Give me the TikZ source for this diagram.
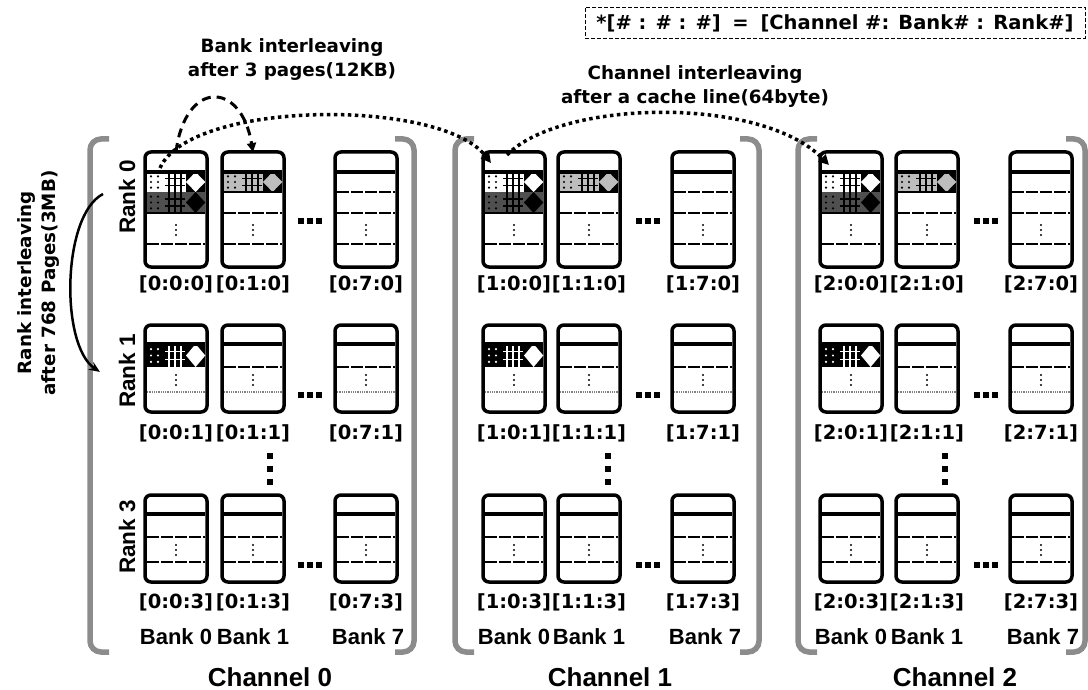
\documentclass[tikz,border=0pt]{standalone}
\usepackage{fontspec}
\setmainfont{DejaVu Sans}
\newfontfamily\arialf{Liberation Sans}
\usetikzlibrary{arrows.meta,calc}
\definecolor{dgray}{HTML}{4F4F4F}
\definecolor{lgray}{HTML}{BDBDBD}
\definecolor{brgray}{HTML}{8C8C8C}
\tikzset{
 bankbox/.style={draw=black, line width=3.5pt, rounded corners=6pt, fill=white, minimum width=62pt, inner sep=0pt, outer sep=0pt},
 thickline/.style={line width=3.2pt},
 dashline/.style={line width=1.1pt, dash pattern=on 12pt off 2pt},
 dotline/.style={line width=1.1pt, gray, dash pattern=on 1pt off 0.8pt},
 chbr/.style={brgray, line width=5.5pt, rounded corners=11pt},
 lab/.style={font=\fontsize{19.5}{22}\selectfont\bfseries, inner sep=0pt},
 banklab/.style={font=\arialf\fontsize{22}{24}\selectfont\bfseries, inner sep=0pt},
 chlab/.style={font=\arialf\fontsize{26}{28}\selectfont\bfseries, inner sep=0pt},
 ranklab/.style={font=\arialf\fontsize{22.5}{24}\selectfont\bfseries, inner sep=0pt, rotate=90},
 notetext/.style={font=\fontsize{18.3}{24}\selectfont\bfseries, align=center, inner sep=0pt},
 dotarrow/.style={line width=3.5pt, dash pattern=on 3.5pt off 3.5pt, -{Triangle[length=10pt,width=10pt]}},
}
\newcommand\prow[6]{%
 \fill[#3] (1.75,#1) rectangle (60.25,#2);
 \foreach \dx in {6,13} {\foreach \dy in {0.22,0.5,0.78} {\fill[#4] (\dx,{#1+(#2-#1)*\dy}) circle (1.2);}}
 \draw[#4, line width=1.1pt] (24,#1)--(24,#2) (30,#1)--(30,#2) (36,#1)--(36,#2)
   (20,{#1+(#2-#1)/3})--(40,{#1+(#2-#1)/3}) (20,{#1+2*(#2-#1)/3})--(40,{#1+2*(#2-#1)/3});
 \fill[#5] (41,#1) rectangle (60.25,#2);
 \fill[#6] (50.6,#1) -- (60.25,{(#1+#2)/2}) -- (50.6,#2) -- (41,{(#1+#2)/2}) -- cycle;
}
\newcommand\vdotsq[2]{\foreach \dd in {-5,0,5} {\fill[black] (#1,#2+\dd) circle (1.1);}}
\newcommand\hdotsq[2]{\foreach \dd in {-9,0,9} {\fill[black] (#1+\dd-3,#2-3) rectangle +(6,6);}}
\newcommand\tallbank[4]{%
 \node[bankbox, minimum height=115] (#1) at (#2+31,#3+57.5) {};
 \begin{scope}[shift={(#2,#3)}]
 \ifcase#4\relax
   \prow{20}{40}{white}{black}{black}{white}\prow{40}{61}{dgray}{black}{dgray}{black}
   \draw[line width=1.1pt] (1.75,61)--(60.25,61);
 \or
   \prow{20}{40}{lgray}{black}{black}{lgray}
   \draw[line width=1.1pt] (1.75,40)--(60.25,40);
   \draw[dashline] (1.75,61)--(60.25,61);
 \else
   \draw[dashline] (1.75,40)--(60.25,40) (1.75,61)--(60.25,61);
 \fi
 \draw[dashline] (1.75,92)--(60.25,92);
 \vdotsq{31}{78}
 \draw[thickline] (1.75,20)--(60.25,20);
 \end{scope}}
\newcommand\shortbank[4]{%
 \node[bankbox, minimum height=87] (#1) at (#2+31,#3+43.5) {};
 \begin{scope}[shift={(#2,#3)}]
 \ifcase#4\relax
   \prow{19}{42}{black}{white}{black}{white}
   \draw[dotline] (1.75,67)--(60.25,67);
 \or
   \draw[dashline] (1.75,42)--(60.25,42);
   \draw[dotline] (1.75,67)--(60.25,67);
 \else
   \draw[dashline] (1.75,42)--(60.25,42) (1.75,67)--(60.25,67);
 \fi
 \vdotsq{31}{55}
 \draw[thickline] (1.75,19)--(60.25,19);
 \end{scope}}
\begin{document}
\begin{tikzpicture}[x=1pt,y=-1pt]
\useasboundingbox (0,0) rectangle (1088,690);
% channel brackets
\foreach \l/\r in {90/414, 455/759, 798/1085} {
 \draw[chbr] (\l+19,139) -- (\l,139) -- (\l,652) -- (\l+19,652);
 \draw[chbr] (\r-19,139) -- (\r,139) -- (\r,652) -- (\r-19,652);
}
% banks
\foreach \ch/\xa/\xb/\xc/\xd/\xv/\xl in {0/145/222/335/310/270/270, 1/483/558/672/648/608/610, 2/820/896/1010/986/945/955} {
 \tallbank{b\ch00}{\xa}{152}{0}
 \tallbank{b\ch10}{\xb}{152}{1}
 \tallbank{b\ch70}{\xc}{152}{2}
 \shortbank{b\ch01}{\xa}{325}{0}
 \shortbank{b\ch11}{\xb}{325}{1}
 \shortbank{b\ch71}{\xc}{325}{1}
 \shortbank{b\ch03}{\xa}{495}{2}
 \shortbank{b\ch13}{\xb}{495}{2}
 \shortbank{b\ch73}{\xc}{495}{2}
 \hdotsq{\xd}{221}
 \hdotsq{\xd}{395}
 \hdotsq{\xd}{565}
 \foreach \yy in {453,466,479} {\fill[black] (\xv-3,\yy) rectangle +(6,6);}
 \node[lab] (l\ch00) at (\xa+31,284) {[\ch:0:0]};
 \node[lab] (l\ch10) at (\xb+31,284) {[\ch:1:0]};
 \node[lab] (l\ch70) at (\xc+31,284) {[\ch:7:0]};
 \node[lab] (l\ch01) at (\xa+31,433) {[\ch:0:1]};
 \node[lab] (l\ch11) at (\xb+31,433) {[\ch:1:1]};
 \node[lab] (l\ch71) at (\xc+31,433) {[\ch:7:1]};
 \node[lab] (l\ch03) at (\xa+31,602) {[\ch:0:3]};
 \node[lab] (l\ch13) at (\xb+31,602) {[\ch:1:3]};
 \node[lab] (l\ch73) at (\xc+31,602) {[\ch:7:3]};
 \node[banklab] (bk\ch0) at (\xa+31,637) {Bank 0};
 \node[banklab] (bk\ch1) at (\xb+31,637) {Bank 1};
 \node[banklab] (bk\ch7) at (\xc+33,637) {Bank 7};
 \node[chlab] (ch\ch) at (\xl,677) {Channel \ch};
}
% rank labels
\node[ranklab] (rk0) at (127,197) {Rank 0};
\node[ranklab] (rk1) at (127,371) {Rank 1};
\node[ranklab] (rk3) at (127,537) {Rank 3};
% notes
\node[draw, line width=1pt, dash pattern=on 4pt off 2pt, minimum width=500pt, minimum height=31pt, inner sep=0pt, font=\fontsize{19.5}{22}\selectfont\bfseries] (legend) at (835,23) {*[\# : \# : \#]\hspace{0.6em}=\hspace{0.6em}[Channel \#: Bank\# : Rank\#]};
\node[notetext] (bnote) at (292,60) {Bank interleaving\\after 3 pages(12KB)};
\node[notetext] (cnote) at (695,87) {Channel interleaving\\after a cache line(64byte)};
\node[notetext, rotate=90] (rnote) at (39,283) {Rank interleaving\\after 768 Pages(3MB)};
% connectors
\coordinate (a0) at ($(b000.north west)+(15,16)$);
\coordinate (a1) at ($(b100.north west)+(8,11)$);
\coordinate (a2) at ($(b100.north west)+(24,3)$);
\coordinate (a3) at ($(b200.north west)+(9,13)$);
\draw[line width=3pt, dash pattern=on 9pt off 6pt, -{Triangle[length=9pt,width=9pt]}] (b000.north) .. controls +(9,-72) and +(-12,-72) .. (b010.north);
\draw[dotarrow] (a0) .. controls +(30,-68) and +(-51,-65) .. (a1);
\draw[dotarrow] (a2) .. controls +(53,-55) and +(-69,-70) .. (a3);
\coordinate (ra) at (103,194);
\coordinate (rb) at (100,372);
\draw[line width=2.5pt, -{Stealth[length=11pt,width=9pt]}] (ra) .. controls (62,215) and (60,345) .. (rb);
\end{tikzpicture}
\end{document}
